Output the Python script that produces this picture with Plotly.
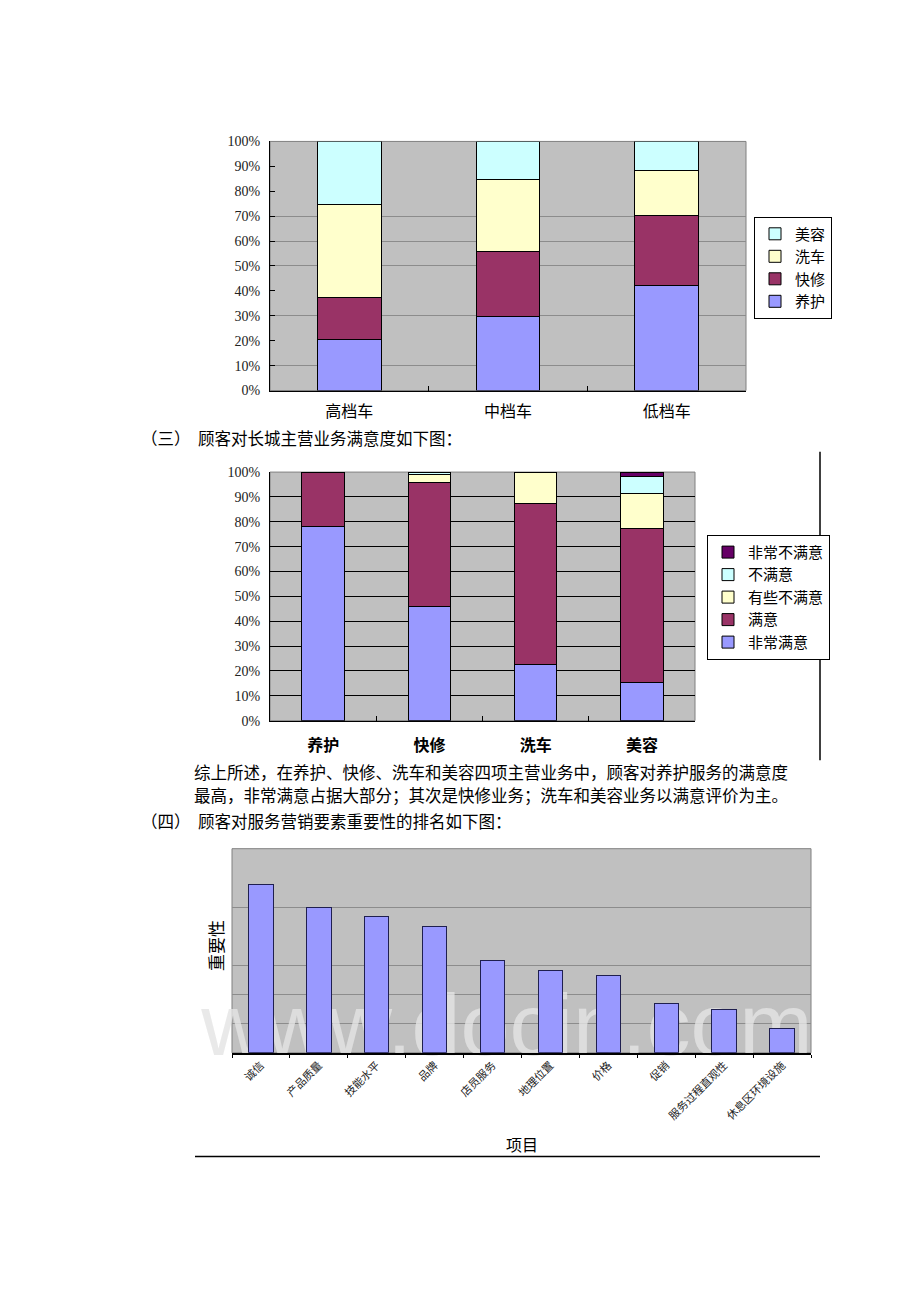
import plotly.graph_objects as go

W, H = 920, 1302

# ---------- data ----------
c1_categories = ["高档车", "中档车", "低档车"]
c1_series = ["养护", "快修", "洗车", "美容"]
c1_yanghu = [0.206, 0.298, 0.423]
c1_kuaixiu = [0.167, 0.259, 0.278]
c1_xiche = [0.372, 0.291, 0.183]
c1_meirong = [0.255, 0.152, 0.116]

c2_categories = ["养护", "快修", "洗车", "美容"]
c2_series = ["非常满意", "满意", "有些不满意", "不满意", "非常不满意"]
c2_feichang_manyi = [0.783, 0.460, 0.225, 0.155]
c2_manyi = [0.217, 0.498, 0.647, 0.617]
c2_youxie_bumanyi = [0.0, 0.033, 0.128, 0.143]
c2_bumanyi = [0.0, 0.009, 0.0, 0.069]
c2_feichang_bumanyi = [0.0, 0.0, 0.0, 0.016]

c3_categories = ["诚信", "产品质量", "技能水平", "品牌", "店员服务", "地理位置",
                 "价格", "促销", "服务过程直观性", "休息区环境设施"]
c3_values = [5.76, 5.00, 4.66, 4.34, 3.15, 2.83, 2.64, 1.69, 1.47, 0.84]

pct_ticks = [0, 0.1, 0.2, 0.3, 0.4, 0.5, 0.6, 0.7, 0.8, 0.9, 1.0]
c1_grid = [0.1, 0.3, 0.5, 0.6, 0.7]
c3_grid = [1, 2, 3, 5]
c3_range = [0, 7]

# ---------- style ----------
COL_BLUE = "#9999FF"
COL_MAROON = "#993366"
COL_YELLOW = "#FFFFCC"
COL_CYAN = "#CCFFFF"
COL_PURPLE = "#660066"
BG = "#C0C0C0"
CJK = "Noto Sans CJK SC"
SERIF = "Liberation Serif"


def px_x(p):
    return p / W


def px_y(p):
    return 1 - p / H


# plot areas in page pixels
P1 = dict(l=270, r=746, t=136, b=388)
P2 = dict(l=270, r=695, t=470.5, b=722)
P3 = dict(l=232, r=811, t=851.5, b=1058)

fig = go.Figure()

# watermark (on the base subplot of chart 3, beneath the bars)
wm_x = (507 - P3["l"]) / (P3["r"] - P3["l"])
wm_y = (P3["b"] - 1038) / (P3["b"] - P3["t"]) * (c3_range[1] - c3_range[0])
fig.add_trace(go.Scatter(
    x=[wm_x], y=[wm_y], mode="text", text=["www.docin.com"],
    textposition="middle center", cliponaxis=False, hoverinfo="skip", showlegend=False,
    textfont=dict(family="Liberation Sans", size=88, color="rgba(228,228,228,0.8)"),
    xaxis="x3", yaxis="y3",
))

# chart 1
c1_vals = [c1_yanghu, c1_kuaixiu, c1_xiche, c1_meirong]
c1_cols = [COL_BLUE, COL_MAROON, COL_YELLOW, COL_CYAN]
for name, vals, col in zip(c1_series, c1_vals, c1_cols):
    fig.add_trace(go.Bar(
        x=c1_categories, y=vals, name=name, width=0.4,
        marker=dict(color=col, line=dict(color="black", width=1)),
        xaxis="x", yaxis="y", legend="legend",
    ))

# chart 2
c2_vals = [c2_feichang_manyi, c2_manyi, c2_youxie_bumanyi, c2_bumanyi, c2_feichang_bumanyi]
c2_cols = [COL_BLUE, COL_MAROON, COL_YELLOW, COL_CYAN, COL_PURPLE]
for name, vals, col in zip(c2_series, c2_vals, c2_cols):
    fig.add_trace(go.Bar(
        x=c2_categories, y=vals, name=name, width=0.4,
        marker=dict(color=col, line=dict(color="black", width=1)),
        xaxis="x2", yaxis="y2", legend="legend2",
    ))

# chart 3 (overlaying subplot so bars sit above the watermark)
fig.add_trace(go.Bar(
    x=c3_categories, y=c3_values, name="重要性", width=0.42, showlegend=False,
    marker=dict(color=COL_BLUE, line=dict(color="#1f1f4f", width=1)),
    xaxis="x4", yaxis="y4",
))

d1x = [px_x(P1["l"]), px_x(P1["r"])]
d1y = [px_y(P1["b"]), px_y(P1["t"])]
d2x = [px_x(P2["l"]), px_x(P2["r"])]
d2y = [px_y(P2["b"]), px_y(P2["t"])]
d3x = [px_x(P3["l"]), px_x(P3["r"])]
d3y = [px_y(P3["b"]), px_y(P3["t"])]

pct_labels = [f"{int(round(v * 100))}%" for v in pct_ticks]

LEG = dict(xanchor="left", yanchor="top", traceorder="reversed", bgcolor="white",
           bordercolor="black", borderwidth=1,
           font=dict(family=CJK, size=15, color="black"), itemwidth=30, tracegroupgap=0)

fig.update_layout(
    width=W, height=H, autosize=False,
    margin=dict(l=0, r=0, t=0, b=0),
    paper_bgcolor="white", plot_bgcolor=BG,
    barmode="stack",
    font=dict(family=CJK, color="black"),
    xaxis=dict(domain=d1x, anchor="y", type="category",
               showline=True, linecolor="black", linewidth=1,
               ticks="inside", ticklen=5, tickcolor="black", tickson="boundaries",
               showgrid=False, tickfont=dict(family=CJK, size=16, color="black"),
               ticklabelstandoff=6),
    yaxis=dict(domain=d1y, anchor="x", range=[0, 1], tickvals=pct_ticks, ticktext=pct_labels,
               showline=True, linecolor="black", linewidth=1,
               ticks="inside", ticklen=5, tickcolor="black",
               showgrid=False, zeroline=False,
               minor=dict(tickvals=c1_grid, showgrid=True, gridcolor="#8c8c8c", gridwidth=1, ticks=""),
               tickfont=dict(family=SERIF, size=14, color="#222"), ticklabelstandoff=6),
    xaxis2=dict(domain=d2x, anchor="y2", type="category",
                showline=True, linecolor="black", linewidth=1,
                ticks="inside", ticklen=5, tickcolor="black", tickson="boundaries",
                showgrid=False, tickfont=dict(family=CJK, size=16, color="black", weight="bold"),
                ticklabelstandoff=10),
    yaxis2=dict(domain=d2y, anchor="x2", range=[0, 1], tickvals=pct_ticks, ticktext=pct_labels,
                showline=True, linecolor="black", linewidth=1,
                ticks="inside", ticklen=5, tickcolor="black",
                showgrid=True, gridcolor="black", gridwidth=1, zeroline=False,
                tickfont=dict(family=SERIF, size=14, color="#222"), ticklabelstandoff=6),
    xaxis3=dict(domain=d3x, anchor="y3", range=[0, 1], visible=False),
    yaxis3=dict(domain=d3y, anchor="x3", range=c3_range, tickvals=c3_grid,
                showticklabels=False, ticks="", showline=False,
                showgrid=True, gridcolor="#8c8c8c", gridwidth=1, zeroline=False),
    xaxis4=dict(domain=d3x, anchor="y4", overlaying="x3", type="category", side="bottom",
                showline=True, linecolor="black", linewidth=1.5,
                ticks="outside", ticklen=3, tickcolor="black", tickson="boundaries",
                showgrid=False, tickangle=-45,
                tickfont=dict(family=CJK, size=11, color="#222")),
    yaxis4=dict(domain=d3y, anchor="x4", overlaying="y3", range=c3_range,
                showticklabels=False, ticks="", showline=False, showgrid=False, zeroline=False),
    legend=dict(x=px_x(754), y=px_y(212), **LEG),
    legend2=dict(x=px_x(707), y=px_y(534), **LEG),
)

# plot-area frames (gray)
for xr, yr in [("x", "y"), ("x2", "y2"), ("x3", "y3")]:
    fig.add_shape(type="rect", xref=f"{xr} domain", yref=f"{yr} domain",
                  x0=0, x1=1, y0=0, y1=1, line=dict(color="#808080", width=1), layer="below")

# document rules
fig.add_shape(type="line", xref="paper", yref="paper",
              x0=px_x(820), x1=px_x(820), y0=px_y(450), y1=px_y(762),
              line=dict(color="black", width=1.5))
fig.add_shape(type="line", xref="paper", yref="paper",
              x0=px_x(195), x1=px_x(820), y0=px_y(1163), y1=px_y(1163),
              line=dict(color="black", width=1.5))

TXT = dict(family=CJK, size=16.5, color="black")


def add_text(text, x, y, **kw):
    fig.add_annotation(text=text, x=px_x(x), y=px_y(y), xref="paper", yref="paper",
                       xanchor=kw.pop("xanchor", "left"), yanchor=kw.pop("yanchor", "middle"),
                       showarrow=False, font=kw.pop("font", TXT), **kw)


add_text("（三）", 139, 436)
add_text("顾客对长城主营业务满意度如下图：", 196, 436)
add_text("综上所述，在养护、快修、洗车和美容四项主营业务中，顾客对养护服务的满意度", 192, 774)
add_text("最高，非常满意占据大部分；其次是快修业务；洗车和美容业务以满意评价为主。", 192, 797)
add_text("（四）", 139, 823)
add_text("顾客对服务营销要素重要性的排名如下图：", 196, 823)

add_text("重要性", 215, 950, xanchor="center", textangle=-90,
         font=dict(family=CJK, size=17, color="black"))
add_text("项目", 522, 1150, xanchor="center", font=dict(family=CJK, size=16, color="black"))

fig.write_html("out.html")
